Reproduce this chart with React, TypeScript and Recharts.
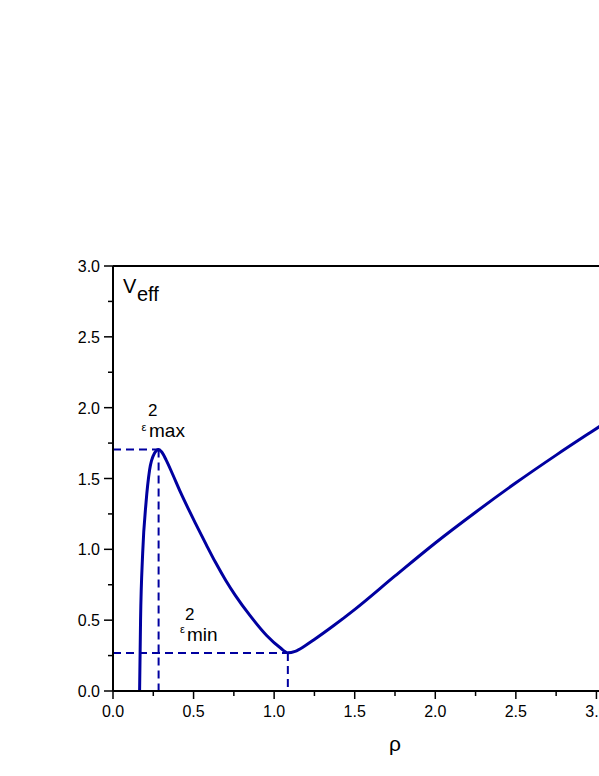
import { LineChart, Line, XAxis, YAxis, ReferenceLine } from "recharts";

// rho values and effective potential
const rho = [
  0.165, 0.171, 0.184, 0.205, 0.227, 0.258, 0.283, 0.3, 0.33, 0.37,
  0.42, 0.47, 0.511, 0.58, 0.635, 0.7, 0.759, 0.852, 0.955, 1.038,
  1.085, 1.13, 1.19, 1.245, 1.37, 1.503, 1.75, 2.0, 2.25, 2.496,
  2.75, 2.96, 3.05,
];
const veff = [
  0.0, 0.5, 0.97, 1.33, 1.56, 1.68, 1.705, 1.69, 1.63, 1.53,
  1.4, 1.28, 1.185, 1.03, 0.91, 0.78, 0.675, 0.53, 0.39, 0.305,
  0.27, 0.28, 0.318, 0.36, 0.462, 0.578, 0.812, 1.045, 1.262, 1.466,
  1.665, 1.823, 1.89,
];

const xTicks = [0, 0.25, 0.5, 0.75, 1, 1.25, 1.5, 1.75, 2, 2.25, 2.5, 2.75, 3, 3.25, 3.5];
const yTicks = [0, 0.25, 0.5, 0.75, 1, 1.25, 1.5, 1.75, 2, 2.25, 2.5, 2.75, 3];

const maxRho = 0.283;
const maxV = 1.705;
const minRho = 1.085;
const minV = 0.268;

const data = rho.map((r, i) => ({ rho: r, v: veff[i] }));

const BLUE = "#0000a0";
const FONT = "'Liberation Sans', Arial, sans-serif";

const isMajor = (v: number) => Math.abs(v * 2 - Math.round(v * 2)) < 1e-6;

function XTick({ x, y, payload }: any) {
  const major = isMajor(payload.value);
  return (
    <g>
      <line x1={x} x2={x} y1={y} y2={y + (major ? 8 : 5)} stroke="#000" strokeWidth={1.5} />
      {major && (
        <text x={x} y={y + 26} textAnchor="middle" fontSize={16} fontFamily={FONT} fill="#000">
          {payload.value.toFixed(1)}
        </text>
      )}
    </g>
  );
}

function YTick({ x, y, payload }: any) {
  const major = isMajor(payload.value);
  return (
    <g>
      <line x1={x - (major ? 9 : 5)} x2={x} y1={y} y2={y} stroke="#000" strokeWidth={1.5} />
      {major && (
        <text x={x - 13} y={y + 6} textAnchor="end" fontSize={16} fontFamily={FONT} fill="#000">
          {payload.value.toFixed(1)}
        </text>
      )}
    </g>
  );
}

export default function App() {
  return (
    <div
      style={{
        position: "absolute",
        left: 0,
        top: 0,
        width: 599,
        height: 776,
        overflow: "hidden",
        background: "#fff",
      }}
    >
      <LineChart
        width={700}
        height={776}
        data={data}
        margin={{ top: 266, right: 23, bottom: 25, left: 0 }}
      >
        <XAxis
          type="number"
          dataKey="rho"
          domain={[0, 3.5]}
          ticks={xTicks}
          interval={0}
          tickSize={0}
          tickMargin={0}
          tick={<XTick />}
          height={60}
          axisLine={{ stroke: "#000", strokeWidth: 2 }}
        />
        <YAxis
          type="number"
          domain={[0, 3]}
          ticks={yTicks}
          interval={0}
          tickSize={0}
          tickMargin={0}
          tick={<YTick />}
          width={113}
          axisLine={{ stroke: "#000", strokeWidth: 2 }}
        />
        <ReferenceLine y={3} stroke="#000" strokeWidth={2} />
        <ReferenceLine
          segment={[{ x: 0, y: maxV }, { x: maxRho, y: maxV }]}
          stroke={BLUE}
          strokeWidth={2}
          strokeDasharray="8 5"
        />
        <ReferenceLine
          segment={[{ x: maxRho, y: maxV }, { x: maxRho, y: 0 }]}
          stroke={BLUE}
          strokeWidth={2}
          strokeDasharray="8 5"
        />
        <ReferenceLine
          segment={[{ x: 0, y: minV }, { x: minRho, y: minV }]}
          stroke={BLUE}
          strokeWidth={2}
          strokeDasharray="8 5"
        />
        <ReferenceLine
          segment={[{ x: minRho, y: minV }, { x: minRho, y: 0 }]}
          stroke={BLUE}
          strokeWidth={2}
          strokeDasharray="8 5"
        />
        <Line
          type="monotone"
          dataKey="v"
          stroke={BLUE}
          strokeWidth={3}
          dot={false}
          isAnimationActive={false}
        />
        <text x={123} y={293} fontSize={20} fontFamily={FONT} fill="#000">
          V
        </text>
        <text x={137} y={301} fontSize={20} fontFamily={FONT} fill="#000">
          eff
        </text>
        <text x={141.5} y={430.5} fontSize={11} fontFamily={FONT} fill="#000">
          ε
        </text>
        <text x={148} y={416} fontSize={17} fontFamily={FONT} fill="#000">
          2
        </text>
        <text x={149} y={437} fontSize={19} fontFamily={FONT} fill="#000">
          max
        </text>
        <text x={180} y={633} fontSize={11} fontFamily={FONT} fill="#000">
          ε
        </text>
        <text x={185} y={620} fontSize={17} fontFamily={FONT} fill="#000">
          2
        </text>
        <text x={187} y={641} fontSize={19} fontFamily={FONT} fill="#000">
          min
        </text>
        <text x={395} y={751} textAnchor="middle" fontSize={21} fontFamily={FONT} fill="#000">
          ρ
        </text>
      </LineChart>
    </div>
  );
}
